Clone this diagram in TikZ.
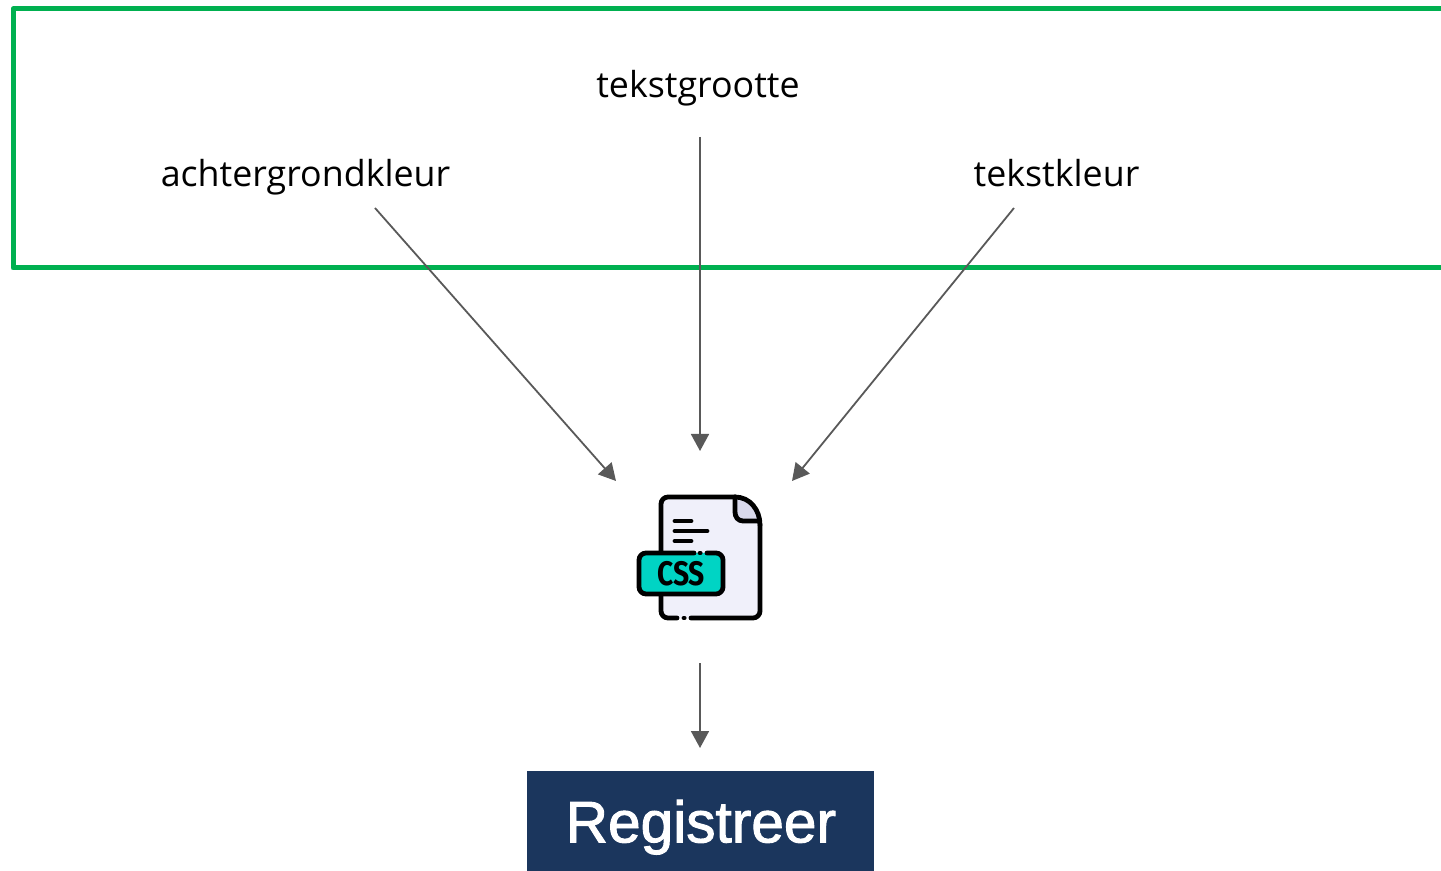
\documentclass[tikz,border=0pt]{standalone}
\usepackage{fontspec}
\setmainfont{Open Sans}
\newfontfamily\btnfont[FakeBold=1.6]{Liberation Sans}
\newfontfamily\iconfont{Fira Sans}
\usetikzlibrary{arrows.meta}
\definecolor{boxgreen}{HTML}{00B050}
\definecolor{arrowgrey}{HTML}{595959}
\definecolor{btnblue}{HTML}{1B365D}
\definecolor{pagefill}{HTML}{F0F0FA}
\definecolor{foldfill}{HTML}{D9D9EC}
\definecolor{cssteal}{HTML}{00D4C4}

\begin{document}
\begin{tikzpicture}[x=0.5pt,y=-0.5pt]
        \useasboundingbox (0,0) rectangle (1441,871);
        \draw[boxgreen,line width=2.5pt,line join=round] (1445,9) -- (13,9) -- (13,268) -- (1445,268);

        \begin{scope}[every node/.style={inner sep=0pt,anchor=base,font=\fontsize{17.9}{20}\selectfont}]
            \node (grootte) at (698,97.5) {tekstgrootte};
            \node (achter) at (305.5,186.5) {achtergrondkleur};
            \node (kleur) at (1056.5,186.5) {tekstkleur};
        \end{scope}

        % css icon
        \fill[pagefill] (661,497) -- (735,497) .. controls (750,497) and (760,510) .. (760,525) -- (760,618) -- (661,618) -- cycle;
        \fill[foldfill] (735,497) .. controls (748,497) and (757,508) .. (759,521) -- (742,521) .. controls (738,521) and (735,518) .. (735,514) -- cycle;
        \begin{scope}[black,line width=2.4pt,line cap=round,line join=round]
            \draw[rounded corners=3.5pt] (661,553) -- (661,497) -- (735,497);
            \draw (735,497) .. controls (750,497) and (760,510) .. (760,525);
            \draw[rounded corners=3.5pt] (760,525) -- (760,618) -- (691,618);
            \draw[rounded corners=3.5pt] (677,618) -- (661,618) -- (661,594);
            \draw (684,618) -- (684.2,618);
            \draw (735,497) -- (735,512) .. controls (735,517) and (738,521) .. (743,521) -- (758,521);
            \draw (675,521) -- (691,521);
            \draw (675,531) -- (707,531);
            \draw (675,541) -- (691,541);
            \fill[cssteal,rounded corners=3.5pt] (639,553) rectangle (723,594);
            \draw[rounded corners=3.5pt] (694,553) -- (639,553) -- (639,594) -- (723,594) -- (723,553) -- (707,553);
            \draw (700,553) -- (700.2,553);
        \end{scope}
        \node[inner sep=0pt,xscale=0.83,font=\iconfont\bfseries\fontsize{17}{17}\selectfont] (css) at (681,574) {CSS};

        \node[fill=btnblue,text=white,minimum width=173.5pt,minimum height=50pt,inner sep=0pt,anchor=north west,
              text height=0pt,text depth=0pt,font=\btnfont\fontsize{29.3}{30}\selectfont] (knop) at (527,771) {\raisebox{-10.5pt}{Registreer}};

        \coordinate (a1) at (375,208);
        \coordinate (a2) at (616,481);
        \coordinate (b1) at (700,137);
        \coordinate (b2) at (700,451);
        \coordinate (c1) at (1014,208);
        \coordinate (c2) at (792,481);
        \coordinate (d1) at (700,663);
        \coordinate (d2) at (700,748);
        \begin{scope}[every path/.style={draw=arrowgrey,line width=0.9pt,-{Triangle[length=8.5pt,width=9pt]}}]
            \path (a1) -- (a2);
            \path (b1) -- (b2);
            \path (c1) -- (c2);
            \path (d1) -- (d2);
        \end{scope}
    \end{tikzpicture}
\end{document}
